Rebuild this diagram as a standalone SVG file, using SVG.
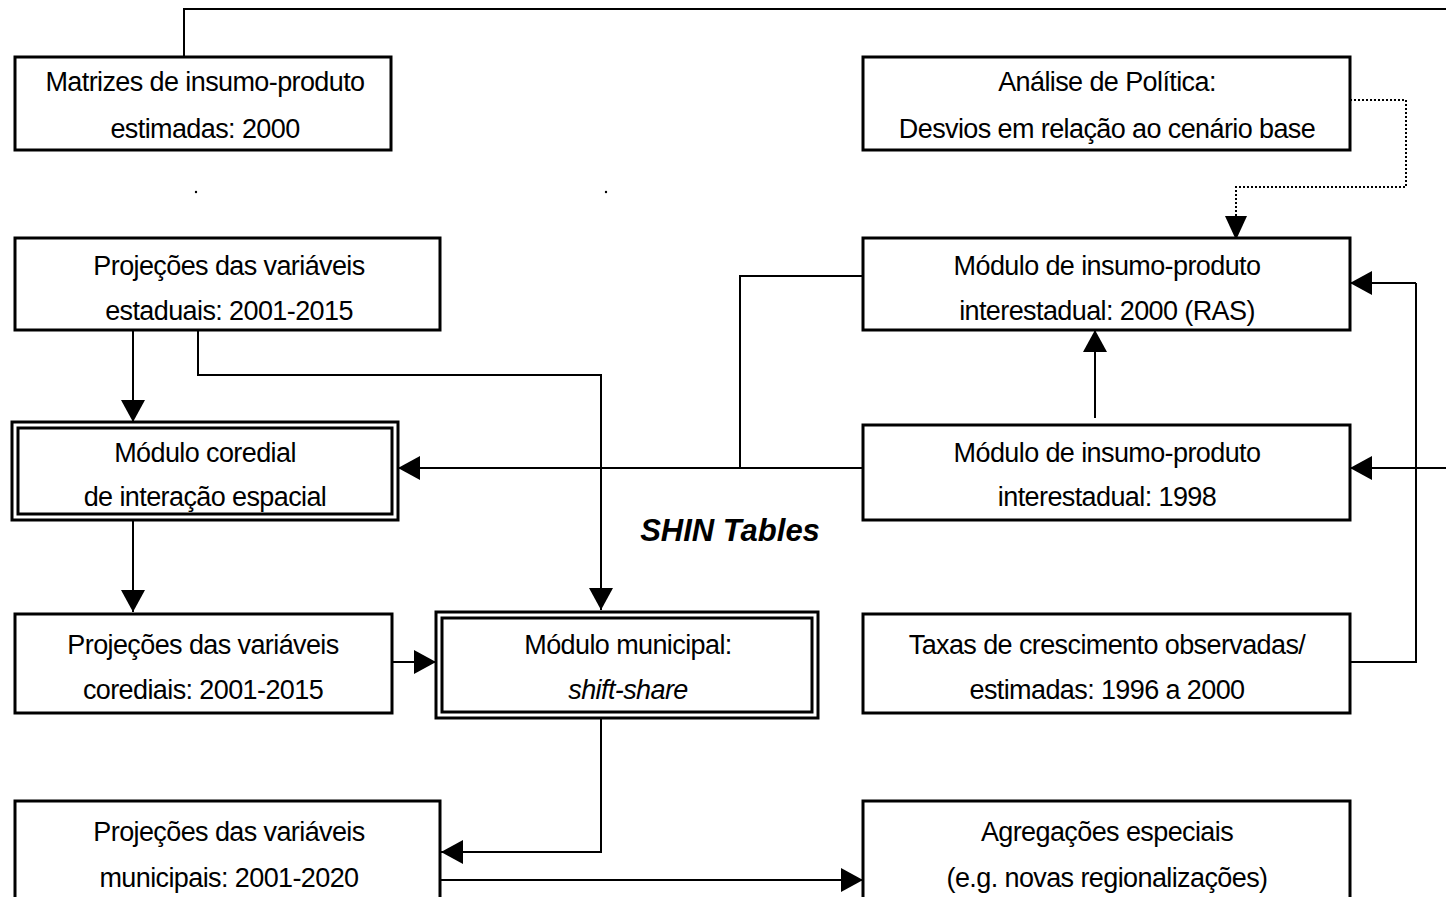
<svg xmlns="http://www.w3.org/2000/svg" width="1446" height="897" viewBox="0 0 1446 897">
<defs>
<marker id="ah" viewBox="0 0 22 24" refX="22" refY="12" markerWidth="22" markerHeight="24" markerUnits="userSpaceOnUse" orient="auto">
<path d="M0,0 L22,12 L0,24 Z" fill="#000"/>
</marker>
</defs>
<style>
.box{fill:#fff;stroke:#000;stroke-width:3}
.t{font-family:"Liberation Sans",Arial,sans-serif;font-size:27px;fill:#000;text-anchor:middle;letter-spacing:-0.6px}
.c{fill:none;stroke:#000;stroke-width:2}
.a{marker-end:url(#ah)}
.d{fill:none;stroke:#000;stroke-width:2;stroke-dasharray:2,2}
</style>
<rect width="1446" height="897" fill="#fff"/>
<g id="connectors">
<path class="c" d="M184,57 V9 H1446"/>
<path class="d" d="M1350,100 H1406 V187 H1236 V218"/>
<path d="M1225,216 L1236,240 L1247,216 Z" fill="#000"/>
<path class="c a" d="M1416,283 H1350"/>
<path class="c" d="M1416,283 V662 H1350"/>
<path class="c a" d="M1446,468 H1350"/>
<path class="c a" d="M1095,418 V330"/>
<path class="c a" d="M863,468 H398"/>
<path class="c" d="M740,468 V276 H863"/>
<path class="c a" d="M133,330 V422"/>
<path class="c a" d="M198,330 V375 H601 V610"/>
<path class="c a" d="M133,520 V612"/>
<path class="c a" d="M392,662 H436"/>
<path class="c a" d="M601,718 V852 H441"/>
<path class="c a" d="M441,880 H863"/>
</g>
<circle cx="196" cy="192" r="1.2" fill="#000"/>
<circle cx="606" cy="192" r="1.2" fill="#000"/>
<g id="n-matrizes">
<rect class="box" x="15" y="57" width="376" height="93"/>
<text class="t" x="205" y="91">Matrizes de insumo-produto</text>
<text class="t" x="205" y="138">estimadas: 2000</text>
</g>
<g id="n-analise">
<rect class="box" x="863" y="57" width="487" height="93"/>
<text class="t" x="1107" y="91">Análise de Política:</text>
<text class="t" x="1107" y="138">Desvios em relação ao cenário base</text>
</g>
<g id="n-estaduais">
<rect class="box" x="15" y="238" width="425" height="92"/>
<text class="t" x="229" y="275">Projeções das variáveis</text>
<text class="t" x="229" y="320">estaduais: 2001-2015</text>
</g>
<g id="n-ras">
<rect class="box" x="863" y="238" width="487" height="92"/>
<text class="t" x="1107" y="275">Módulo de insumo-produto</text>
<text class="t" x="1107" y="320">interestadual: 2000 (RAS)</text>
</g>
<g id="n-coredial">
<rect class="box" x="12" y="422" width="386" height="98"/>
<rect class="box" x="18" y="428" width="374" height="86"/>
<text class="t" x="205" y="462">Módulo coredial</text>
<text class="t" x="205" y="506">de interação espacial</text>
</g>
<g id="n-1998">
<rect class="box" x="863" y="425" width="487" height="95"/>
<text class="t" x="1107" y="462">Módulo de insumo-produto</text>
<text class="t" x="1107" y="506">interestadual: 1998</text>
</g>
<text id="shin" x="730" y="541" font-family="Liberation Sans,Arial,sans-serif" font-size="31" font-weight="bold" font-style="italic" text-anchor="middle">SHIN Tables</text>
<g id="n-corediais">
<rect class="box" x="15" y="614" width="377" height="99"/>
<text class="t" x="203" y="654">Projeções das variáveis</text>
<text class="t" x="203" y="699">corediais: 2001-2015</text>
</g>
<g id="n-municipal">
<rect class="box" x="436" y="612" width="382" height="106"/>
<rect class="box" x="442" y="618" width="370" height="94"/>
<text class="t" x="628" y="654">Módulo municipal:</text>
<text class="t" x="628" y="699" font-style="italic">shift-share</text>
</g>
<g id="n-taxas">
<rect class="box" x="863" y="614" width="487" height="99"/>
<text class="t" x="1107" y="654">Taxas de crescimento observadas/</text>
<text class="t" x="1107" y="699">estimadas: 1996 a 2000</text>
</g>
<g id="n-municipais">
<rect class="box" x="15" y="801" width="425" height="110"/>
<text class="t" x="229" y="841">Projeções das variáveis</text>
<text class="t" x="229" y="887">municipais: 2001-2020</text>
</g>
<g id="n-agregacoes">
<rect class="box" x="863" y="801" width="487" height="110"/>
<text class="t" x="1107" y="841">Agregações especiais</text>
<text class="t" x="1107" y="887">(e.g. novas regionalizações)</text>
</g>
</svg>
